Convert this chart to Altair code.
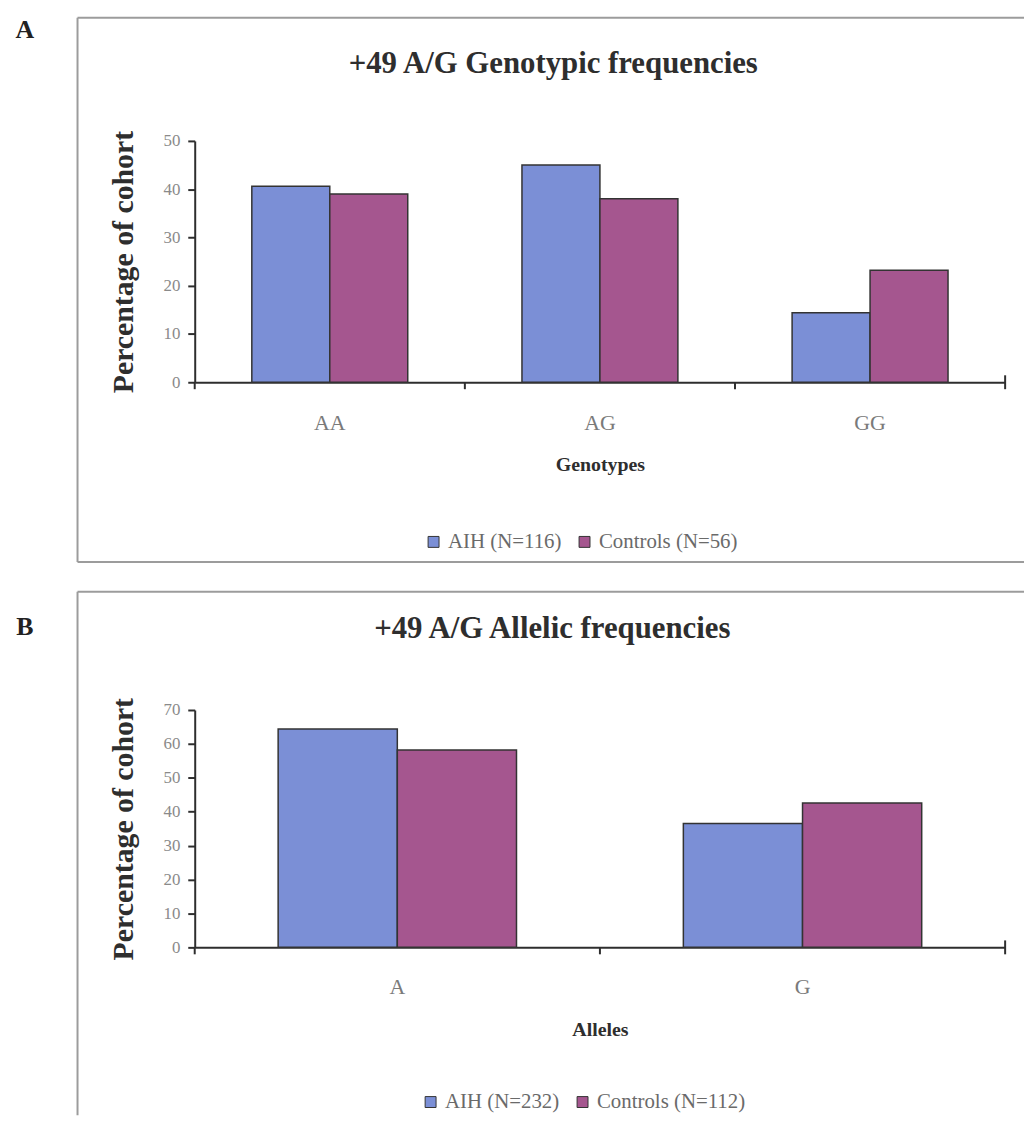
import altair as alt
import pandas as pd

# ---------------- data ----------------
genotypes = ["AA", "AG", "GG"]
geno_aih = [40.6, 45.0, 14.4]
geno_controls = [39.0, 38.0, 23.2]
geno_series = ["AIH (N=116)", "Controls (N=56)"]

alleles = ["A", "G"]
allele_aih = [64.4, 36.5]
allele_controls = [58.2, 42.6]
allele_series = ["AIH (N=232)", "Controls (N=112)"]

y_ticks_a = [0, 10, 20, 30, 40, 50]
y_ticks_b = [0, 10, 20, 30, 40, 50, 60, 70]

colors = ["#7b8fd6", "#a5568f"]

SERIF = "Liberation Serif"
DARK = "#2e2e2e"
FRAME = "#9c9c9c"


def one_row(**kw):
    return alt.Data(values=[dict(k=1, **kw)])


def hline(x1, x2, y):
    return alt.Chart(one_row()).mark_rule(color=FRAME, strokeWidth=2).encode(
        x=alt.value(x1), x2=alt.value(x2), y=alt.value(y))


def vline(x, y1, y2):
    return alt.Chart(one_row()).mark_rule(color=FRAME, strokeWidth=2).encode(
        x=alt.value(x), y=alt.value(y1), y2=alt.value(y2))


def panel(letter, title, cats, aih, ctrl, series, ticks, xtitle, W, H,
          pad_outer, frame, bottom_line, letter_pos, title_offset, title_dx,
          legend_xy, label_pad):
    df = pd.DataFrame({
        "cat": list(cats) * 2,
        "series": [series[0]] * len(cats) + [series[1]] * len(cats),
        "value": list(aih) + list(ctrl),
    })
    xscale = alt.Scale(paddingInner=0, paddingOuter=0)
    xaxis = alt.Axis(
        title=xtitle, titleFont=SERIF, titleFontSize=20, titleFontWeight="bold",
        titleColor=DARK, titleY=73, titleBaseline="top",
        labelFont=SERIF, labelFontSize=22, labelColor="#7a7a7a", labelAngle=0,
        labelPadding=label_pad, ticks=False, domainColor=DARK, domainWidth=2,
        grid=False)
    yaxis = alt.Axis(
        title="Percentage of cohort", values=ticks, titleFont=SERIF,
        titleFontSize=30, titleFontWeight="bold", titleColor=DARK,
        titleX=-72, titleY=H / 2, titleBaseline="middle", titleAngle=270,
        labelFont=SERIF, labelFontSize=17, labelColor="#8a8a8a", labelPadding=8,
        tickSize=7, tickWidth=2, tickColor=DARK, domainColor=DARK,
        domainWidth=2, grid=False)
    legend = alt.Legend(
        title=None, orient="none", legendX=legend_xy[0], legendY=legend_xy[1],
        direction="horizontal", symbolType="square", symbolSize=121,
        symbolStrokeColor="#333", symbolStrokeWidth=1, labelFont=SERIF,
        labelFontSize=21, labelColor="#6a6a6a", labelOffset=4, columnPadding=12)

    bars = alt.Chart(df).mark_bar(stroke="#333", strokeWidth=1.5).encode(
        x=alt.X("cat:N", sort=cats, scale=xscale, axis=xaxis),
        xOffset=alt.XOffset("series:N", sort=series,
                            scale=alt.Scale(paddingInner=0, paddingOuter=pad_outer)),
        y=alt.Y("value:Q", scale=alt.Scale(domain=[0, ticks[-1]], nice=False),
                axis=yaxis),
        color=alt.Color("series:N", sort=series,
                        scale=alt.Scale(domain=series, range=colors),
                        legend=legend),
    )
    edges = alt.Chart(pd.DataFrame({"cat": cats})).mark_rule(
        color=DARK, strokeWidth=2).encode(
        x=alt.X("cat:N", sort=cats, scale=xscale, axis=xaxis, bandPosition=0),
        y=alt.value(H), y2=alt.value(H + 7))
    end = alt.Chart(pd.DataFrame({"cat": [cats[-1]]})).mark_rule(
        color=DARK, strokeWidth=2).encode(
        x=alt.X("cat:N", sort=cats, scale=xscale, axis=xaxis, bandPosition=1),
        y=alt.value(H - 7), y2=alt.value(H + 7))

    fx1, fx2, fy1, fy2 = frame
    layers = [hline(fx1, fx2, fy1), vline(fx1, fy1, fy2)]
    if bottom_line:
        layers.append(hline(fx1, fx2, fy2))
    letter_mark = alt.Chart(alt.Data(values=[{"t": letter}])).mark_text(
        font=SERIF, fontSize=26, fontWeight="bold", color="#222",
        align="center", baseline="middle").encode(
        x=alt.value(letter_pos[0]), y=alt.value(letter_pos[1]), text="t:N")
    layers += [letter_mark, bars, edges, end]

    return alt.layer(*layers).properties(
        width=W, height=H,
        title=alt.Title(title, font=SERIF, fontSize=31, fontWeight="bold",
                        color=DARK, offset=title_offset, dx=title_dx,
                        frame="group", anchor="middle"))


panel_a = panel("A", "+49 A/G Genotypic frequencies", genotypes, geno_aih,
                geno_controls, geno_series, y_ticks_a, "Genotypes",
                816, 243, 0.7325, (-118, 835, -124, 424), True,
                (-171, -112), -64, -47, (230, 393), 31)

panel_b = panel("B", "+49 A/G Allelic frequencies", alleles, allele_aih,
                allele_controls, allele_series, y_ticks_b, "Alleles",
                816, 239, 0.70, (-118, 835, -119, 408), False,
                (-171, -84), -55, -48, (227, 384), 29)

chart = alt.vconcat(panel_a, panel_b, spacing=28).resolve_scale(
    color="independent", x="independent", y="independent",
    xOffset="independent").properties(
    padding={"left": 7, "top": 5, "right": 0, "bottom": 0}
).configure(
    background="white",
    view=alt.ViewConfig(stroke="transparent", strokeWidth=0),
)

chart.save("out.html", embed_options={"renderer": "svg", "actions": False})
